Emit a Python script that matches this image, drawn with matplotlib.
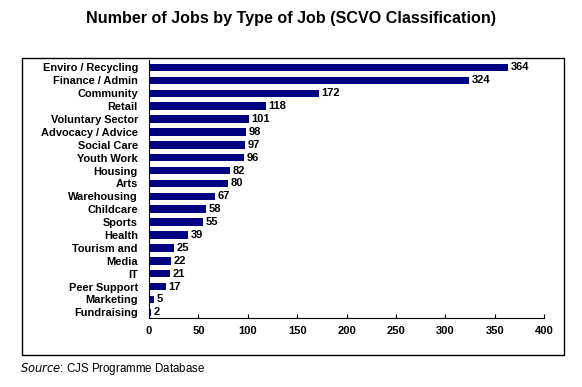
import matplotlib.pyplot as plt
from matplotlib.patches import Rectangle

# Job types and counts, top to bottom as in the chart
job_types = ["Enviro / Recycling", "Finance / Admin", "Community", "Retail",
             "Voluntary Sector", "Advocacy / Advice", "Social Care", "Youth Work",
             "Housing", "Arts", "Warehousing", "Childcare", "Sports", "Health",
             "Tourism and", "Media", "IT", "Peer Support", "Marketing", "Fundraising"]
job_counts = [364, 324, 172, 118, 101, 98, 97, 96, 82, 80, 67, 58, 55, 39,
              25, 22, 21, 17, 5, 2]
x_ticks = [0, 50, 100, 150, 200, 250, 300, 350, 400]

plt.rcParams['font.family'] = ['Liberation Sans', 'DejaVu Sans']

fig = plt.figure(figsize=(5.82, 3.87), dpi=100)
W, H = 582, 387
ax = fig.add_axes([149 / W, 1 - 318 / H, (544 - 149) / W, (318 - 60) / H])

# reverse so the first category ends up on top
labels = job_types[::-1]
values = job_counts[::-1]
pos = range(len(labels))
bars = ax.barh(pos, values, height=0.58, color="#000080")
ax.bar_label(bars, padding=2, fontsize=8, fontweight="bold")

ax.set_yticks(list(pos))
ax.set_yticklabels(labels, fontsize=7.9, fontweight="bold")
ax.set_ylim(-0.44, len(labels) - 0.42)
ax.set_xlim(0, 400)
ax.set_xticks(x_ticks)
ax.set_xticklabels([str(t) for t in x_ticks], fontsize=8, fontweight="bold")

for s in ["top", "right"]:
    ax.spines[s].set_visible(False)
ax.spines["left"].set_linewidth(0.8)
ax.spines["bottom"].set_linewidth(0.8)
ax.tick_params(axis="x", direction="in", length=3, width=0.8, pad=6)
ax.tick_params(axis="y", length=0, pad=8)

# outer chart box
fig.patches.append(Rectangle((22 / W, 1 - 355 / H), (564 - 22) / W, (355 - 58) / H,
                             transform=fig.transFigure, fill=False,
                             edgecolor="black", linewidth=1.0))

fig.text(0.5, 1 - 18 / H, "Number of Jobs by Type of Job (SCVO Classification)",
         ha="center", va="center", fontsize=11.6, fontweight="bold")
fig.text(20 / W, 1 - 369 / H, "$\\it{Source}$: CJS Programme Database",
         ha="left", va="center", fontsize=8.3)

fig.savefig("out.png", dpi=100)
